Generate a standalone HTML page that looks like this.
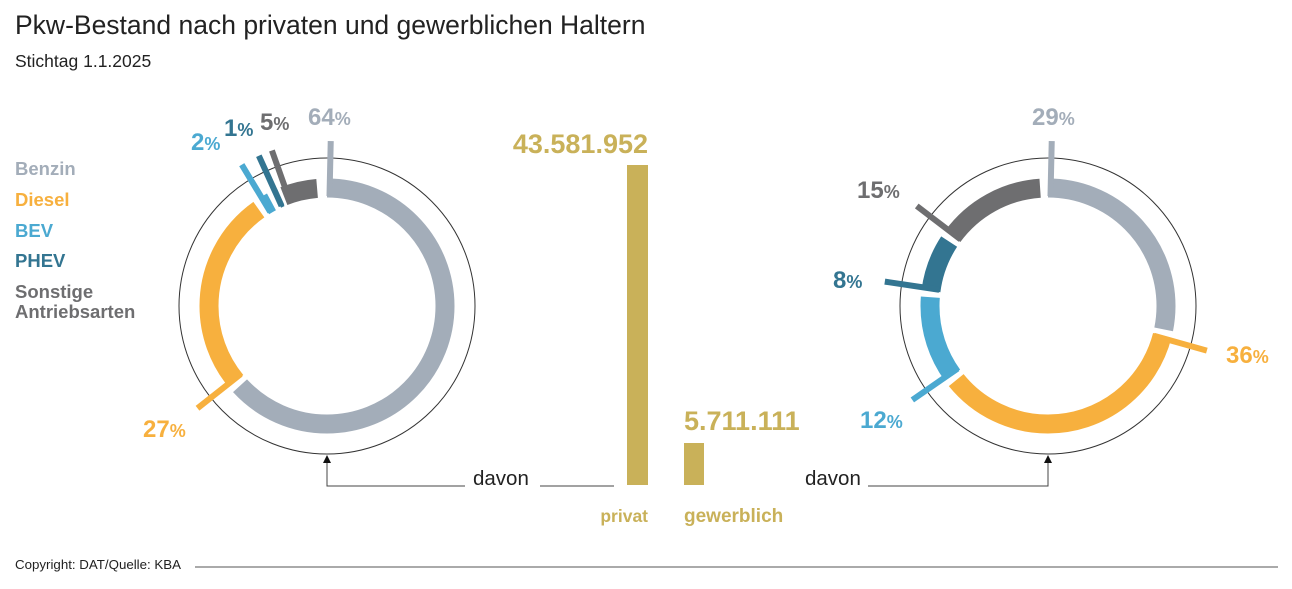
<!DOCTYPE html>
<html><head><meta charset="utf-8"><style>
body{margin:0;width:1292px;height:589px;background:#fff;overflow:hidden;font-family:"Liberation Sans",sans-serif}
svg{position:absolute;left:0;top:0}
</style></head><body>
<svg width="1292" height="589" viewBox="0 0 1292 589" font-family="Liberation Sans, sans-serif">
<text x="15" y="34" font-size="26.5" fill="#222">Pkw-Bestand nach privaten und gewerblichen Haltern</text>
<text x="15" y="67" font-size="17.5" fill="#222">Stichtag 1.1.2025</text>

<g font-size="18.5" font-weight="bold">
<text x="15" y="175" fill="#a3adb9">Benzin</text>
<text x="15" y="206" fill="#f7b03e">Diesel</text>
<text x="15" y="237" fill="#4ba9d1">BEV</text>
<text x="15" y="267" fill="#337591">PHEV</text>
<text x="15" y="298" fill="#6e6e70">Sonstige</text>
<text x="15" y="318" fill="#6e6e70">Antriebsarten</text>
</g>

<!-- left donut -->
<circle cx="327" cy="306" r="148" fill="none" stroke="#333" stroke-width="1"/>
<g transform="translate(327,306) rotate(-90)" fill="none" stroke-width="19">
<circle r="118" stroke="#a3adb9" stroke-dasharray="468.3 800" stroke-dashoffset="0"/>
<circle r="118" stroke="#f7b03e" stroke-dasharray="194 800" stroke-dashoffset="-474.5"/>
<circle r="118" stroke="#4ba9d1" stroke-dasharray="8.6 800" stroke-dashoffset="-674.7"/>
<circle r="118" stroke="#337591" stroke-dasharray="4.1 800" stroke-dashoffset="-689.5"/>
<circle r="118" stroke="#6e6e70" stroke-dasharray="34.2 800" stroke-dashoffset="-697"/>
</g>
<g transform="translate(327,306)" stroke-width="6">
<line x1="0" y1="-110" x2="0" y2="-165" stroke="#a3adb9" transform="rotate(1.3)"/>
<line x1="0" y1="-110" x2="0" y2="-165" stroke="#f7b03e" transform="rotate(231.7)"/>
<line x1="0" y1="-110" x2="0" y2="-165" stroke="#4ba9d1" transform="rotate(328.9)"/>
<line x1="0" y1="-110" x2="0" y2="-165" stroke="#337591" transform="rotate(335.6)"/>
<line x1="0" y1="-110" x2="0" y2="-165" stroke="#6e6e70" transform="rotate(340.5)"/>
</g>
<g font-weight="bold" font-size="24">
<text x="308" y="125" fill="#a3adb9">64<tspan font-size="18">%</tspan></text>
<text x="260" y="130" fill="#6e6e70">5<tspan font-size="18">%</tspan></text>
<text x="224" y="136" fill="#337591">1<tspan font-size="18">%</tspan></text>
<text x="191" y="150" fill="#4ba9d1">2<tspan font-size="18">%</tspan></text>
<text x="143" y="437" fill="#f7b03e">27<tspan font-size="18">%</tspan></text>
</g>

<!-- right donut -->
<circle cx="1048" cy="306" r="148" fill="none" stroke="#333" stroke-width="1"/>
<g transform="translate(1048,306) rotate(-90)" fill="none" stroke-width="19">
<circle r="118" stroke="#a3adb9" stroke-dasharray="208.8 800" stroke-dashoffset="0"/>
<circle r="118" stroke="#f7b03e" stroke-dasharray="260.7 800" stroke-dashoffset="-215"/>
<circle r="118" stroke="#4ba9d1" stroke-dasharray="82.8 800" stroke-dashoffset="-481.9"/>
<circle r="118" stroke="#337591" stroke-dasharray="53.1 800" stroke-dashoffset="-570.9"/>
<circle r="118" stroke="#6e6e70" stroke-dasharray="103 800" stroke-dashoffset="-630.2"/>
</g>
<g transform="translate(1048,306)" stroke-width="6">
<line x1="0" y1="-110" x2="0" y2="-165" stroke="#a3adb9" transform="rotate(1.3)"/>
<line x1="0" y1="-110" x2="0" y2="-165" stroke="#f7b03e" transform="rotate(105.7)"/>
<line x1="0" y1="-110" x2="0" y2="-165" stroke="#4ba9d1" transform="rotate(235.3)"/>
<line x1="0" y1="-110" x2="0" y2="-165" stroke="#337591" transform="rotate(278.5)"/>
<line x1="0" y1="-110" x2="0" y2="-165" stroke="#6e6e70" transform="rotate(307.3)"/>
</g>
<g font-weight="bold" font-size="24">
<text x="1032" y="125" fill="#a3adb9">29<tspan font-size="18">%</tspan></text>
<text x="857" y="198" fill="#6e6e70">15<tspan font-size="18">%</tspan></text>
<text x="833" y="288" fill="#337591">8<tspan font-size="18">%</tspan></text>
<text x="1226" y="363" fill="#f7b03e">36<tspan font-size="18">%</tspan></text>
<text x="860" y="428" fill="#4ba9d1">12<tspan font-size="18">%</tspan></text>
</g>

<!-- bars -->
<rect x="627" y="165" width="21" height="320" fill="#c9b159"/>
<rect x="684" y="443" width="20" height="42" fill="#c9b159"/>
<g font-weight="bold" fill="#c9b159">
<text x="648" y="153" font-size="27" text-anchor="end">43.581.952</text>
<text x="684" y="430" font-size="27">5.711.111</text>
<text x="648" y="522" font-size="17.5" text-anchor="end">privat</text>
<text x="684" y="522" font-size="19">gewerblich</text>
</g>

<!-- davon connectors -->
<g stroke="#444" stroke-width="1" fill="none">
<polyline points="465,486 327,486 327,462"/>
<line x1="540" y1="486" x2="614" y2="486"/>
<polyline points="868,486 1048,486 1048,462"/>
</g>
<path d="M323,463 L331,463 L327,455 Z" fill="#111"/>
<path d="M1044,463 L1052,463 L1048,455 Z" fill="#111"/>
<text x="473" y="485" font-size="20.5" fill="#222">davon</text>
<text x="805" y="485" font-size="20.5" fill="#222">davon</text>

<text x="15" y="569" font-size="13.3" fill="#222">Copyright: DAT/Quelle: KBA</text>
<line x1="195" y1="567" x2="1278" y2="567" stroke="#555" stroke-width="1"/>
</svg>
</body></html>
